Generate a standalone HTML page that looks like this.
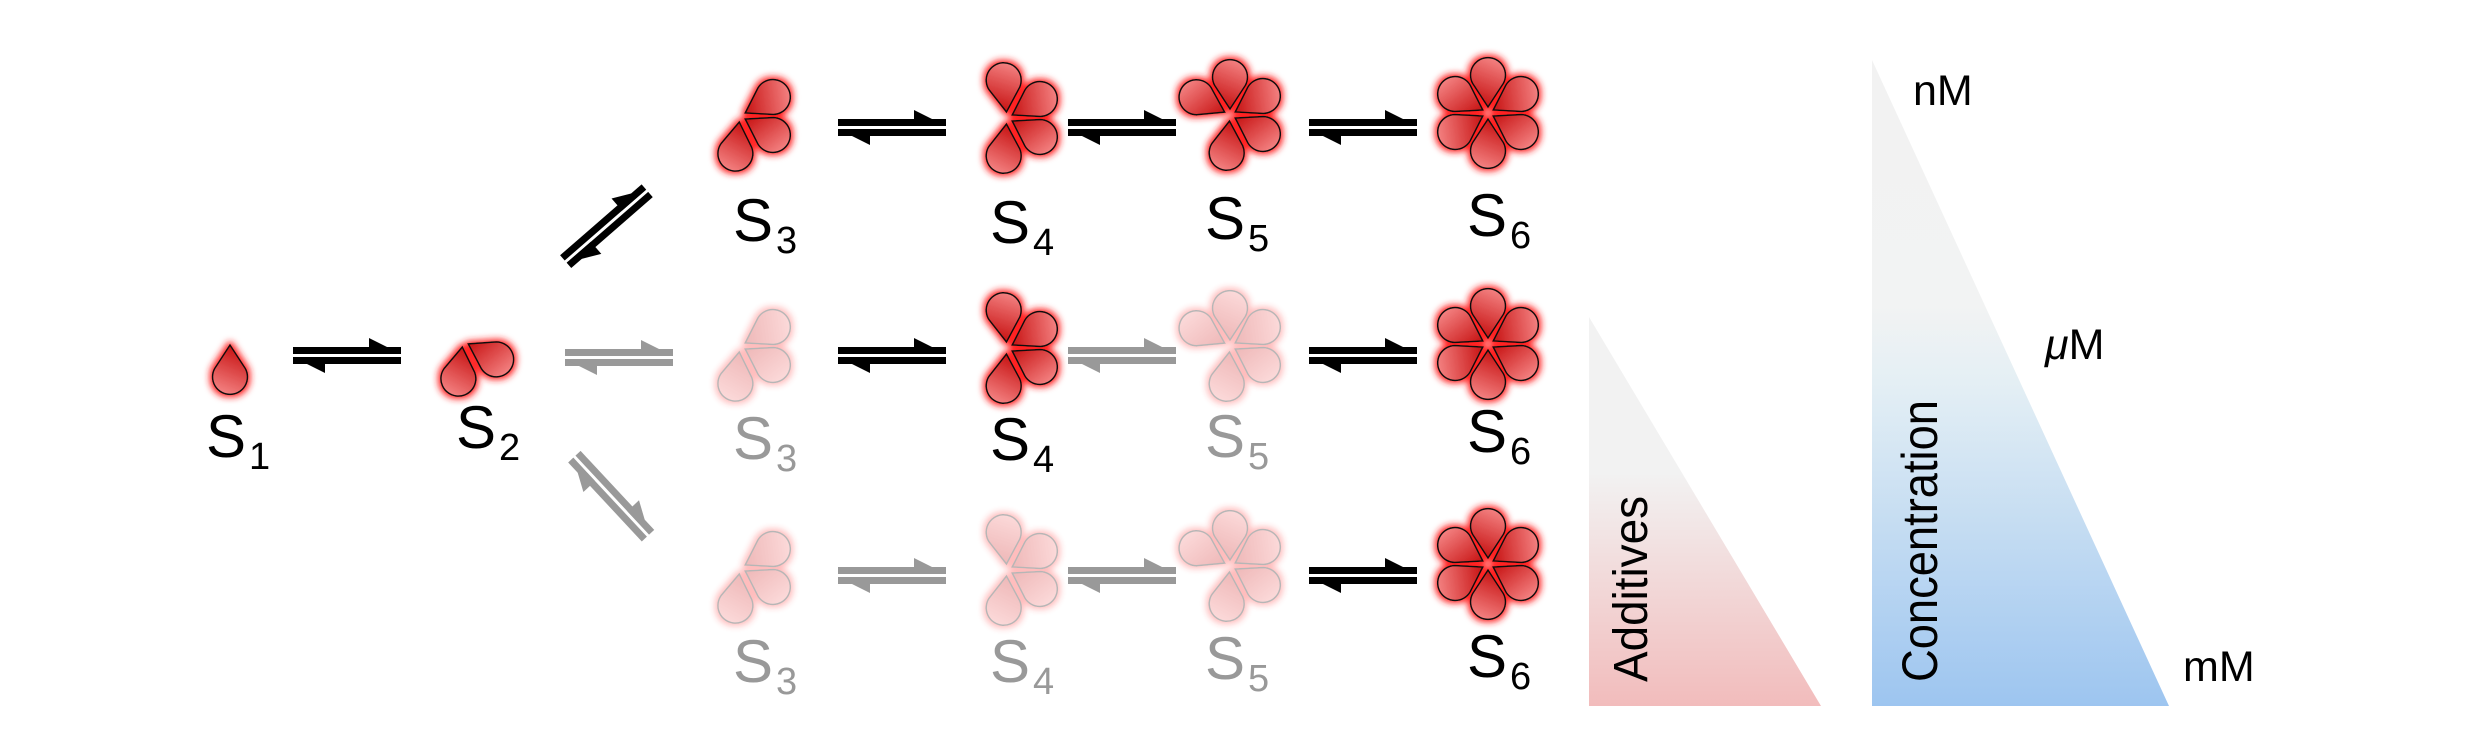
<!DOCTYPE html>
<html><head><meta charset="utf-8"><style>html,body{margin:0;padding:0;background:#fff}svg{display:block}</style></head>
<body>
<svg width="2480" height="738" viewBox="0 0 2480 738" xmlns="http://www.w3.org/2000/svg">
<defs>
<linearGradient id="pg" gradientUnits="userSpaceOnUse" x1="5" y1="-8" x2="54" y2="12">
<stop offset="0" stop-color="#c40a0a"/><stop offset="1" stop-color="#f58585"/></linearGradient>
<filter id="glow" x="-50%" y="-50%" width="200%" height="200%">
<feMorphology in="SourceAlpha" operator="dilate" radius="2" result="d"/>
<feGaussianBlur in="d" stdDeviation="3.5" result="b"/>
<feFlood flood-color="#ff2020"/><feComposite in2="b" operator="in" result="g"/>
<feMerge><feMergeNode in="g"/><feMergeNode in="SourceGraphic"/></feMerge></filter>
<path id="pt" d="M6,0 L29.6,-15.4 A17.5,17.5 0 1 1 29.6,15.4 Z" fill="url(#pg)" stroke="#111" stroke-width="1.5"/>
<g id="ab">
<rect x="0" y="-9" width="108" height="7"/><polygon points="76,-18 108,-2 76,-2"/>
<rect x="0" y="1" width="108" height="7"/><polygon points="0,1 32,17 32,1"/>
</g>
</defs>

<g filter="url(#glow)">
<g transform="translate(230,339)"><use href="#pt" transform="rotate(90)"/></g>
<g transform="translate(463,341)"><use href="#pt" transform="rotate(97)"/><use href="#pt" transform="rotate(29)"/></g>
<g transform="translate(740,116)"><use href="#pt" transform="rotate(-30)"/><use href="#pt" transform="rotate(30)"/><use href="#pt" transform="rotate(97)"/></g>
<g transform="translate(1007,118)"><use href="#pt" transform="rotate(-95)"/><use href="#pt" transform="rotate(-30)"/><use href="#pt" transform="rotate(30)"/><use href="#pt" transform="rotate(95)"/></g>
<g transform="translate(1230,115)"><use href="#pt" transform="rotate(-152)"/><use href="#pt" transform="rotate(-90)"/><use href="#pt" transform="rotate(-30)"/><use href="#pt" transform="rotate(30)"/><use href="#pt" transform="rotate(95)"/></g>
<g transform="translate(1488,113)"><use href="#pt" transform="rotate(-150)"/><use href="#pt" transform="rotate(-90)"/><use href="#pt" transform="rotate(-30)"/><use href="#pt" transform="rotate(30)"/><use href="#pt" transform="rotate(90)"/><use href="#pt" transform="rotate(150)"/></g>
<g transform="translate(1007,348)"><use href="#pt" transform="rotate(-95)"/><use href="#pt" transform="rotate(-30)"/><use href="#pt" transform="rotate(30)"/><use href="#pt" transform="rotate(95)"/></g>
<g transform="translate(1488,344)"><use href="#pt" transform="rotate(-150)"/><use href="#pt" transform="rotate(-90)"/><use href="#pt" transform="rotate(-30)"/><use href="#pt" transform="rotate(30)"/><use href="#pt" transform="rotate(90)"/><use href="#pt" transform="rotate(150)"/></g>
<g transform="translate(1488,564)"><use href="#pt" transform="rotate(-150)"/><use href="#pt" transform="rotate(-90)"/><use href="#pt" transform="rotate(-30)"/><use href="#pt" transform="rotate(30)"/><use href="#pt" transform="rotate(90)"/><use href="#pt" transform="rotate(150)"/></g>
</g>
<g filter="url(#glow)" opacity="0.3">
<g transform="translate(740,346)"><use href="#pt" transform="rotate(-30)"/><use href="#pt" transform="rotate(30)"/><use href="#pt" transform="rotate(97)"/></g>
<g transform="translate(1230,346)"><use href="#pt" transform="rotate(-152)"/><use href="#pt" transform="rotate(-90)"/><use href="#pt" transform="rotate(-30)"/><use href="#pt" transform="rotate(30)"/><use href="#pt" transform="rotate(95)"/></g>
<g transform="translate(740,568)"><use href="#pt" transform="rotate(-30)"/><use href="#pt" transform="rotate(30)"/><use href="#pt" transform="rotate(97)"/></g>
<g transform="translate(1007,570)"><use href="#pt" transform="rotate(-95)"/><use href="#pt" transform="rotate(-30)"/><use href="#pt" transform="rotate(30)"/><use href="#pt" transform="rotate(95)"/></g>
<g transform="translate(1230,566)"><use href="#pt" transform="rotate(-152)"/><use href="#pt" transform="rotate(-90)"/><use href="#pt" transform="rotate(-30)"/><use href="#pt" transform="rotate(30)"/><use href="#pt" transform="rotate(95)"/></g>
</g>

<g fill="#000">
<use href="#ab" transform="translate(293,356)"/>
<use href="#ab" transform="translate(838,128)"/>
<use href="#ab" transform="translate(1068,128)"/>
<use href="#ab" transform="translate(1309,128)"/>
<use href="#ab" transform="translate(838,356)"/>
<use href="#ab" transform="translate(1309,356)"/>
<use href="#ab" transform="translate(1309,576)"/>
<use href="#ab" transform="translate(566,262) rotate(-41)"/>
</g>
<g fill="#999">
<use href="#ab" transform="translate(565,358)"/>
<use href="#ab" transform="translate(1068,356)"/>
<use href="#ab" transform="translate(838,576)"/>
<use href="#ab" transform="translate(1068,576)"/>
<use href="#ab" transform="translate(574,457) rotate(47)"/>
</g>

<g font-family="Liberation Sans, sans-serif" font-size="60">
<text x="206" y="457">S<tspan font-size="38" dx="3" dy="12">1</tspan></text>
<text x="456" y="448">S<tspan font-size="38" dx="3" dy="12">2</tspan></text>
<text x="733" y="241">S<tspan font-size="38" dx="3" dy="12">3</tspan></text>
<text x="990" y="243">S<tspan font-size="38" dx="3" dy="12">4</tspan></text>
<text x="1205" y="239">S<tspan font-size="38" dx="3" dy="12">5</tspan></text>
<text x="1467" y="236">S<tspan font-size="38" dx="3" dy="12">6</tspan></text>
<text x="733" y="459" fill="#999">S<tspan font-size="38" dx="3" dy="12">3</tspan></text>
<text x="990" y="460">S<tspan font-size="38" dx="3" dy="12">4</tspan></text>
<text x="1205" y="457" fill="#999">S<tspan font-size="38" dx="3" dy="12">5</tspan></text>
<text x="1467" y="452">S<tspan font-size="38" dx="3" dy="12">6</tspan></text>
<text x="733" y="682" fill="#999">S<tspan font-size="38" dx="3" dy="12">3</tspan></text>
<text x="990" y="682" fill="#999">S<tspan font-size="38" dx="3" dy="12">4</tspan></text>
<text x="1205" y="679" fill="#999">S<tspan font-size="38" dx="3" dy="12">5</tspan></text>
<text x="1467" y="677">S<tspan font-size="38" dx="3" dy="12">6</tspan></text>
</g>

<linearGradient id="ga" x1="0" y1="0" x2="0" y2="1">
<stop offset="0" stop-color="#f2f2f2"/><stop offset="0.4" stop-color="#f2f2f2"/><stop offset="1" stop-color="#f2bcbc"/></linearGradient>
<linearGradient id="gc" x1="0" y1="0" x2="0" y2="1">
<stop offset="0" stop-color="#f2f2f2"/><stop offset="0.38" stop-color="#f2f3f3"/><stop offset="0.5" stop-color="#e4eff4"/><stop offset="1" stop-color="#9dc5f0"/></linearGradient>
<polygon points="1589,317 1589,706 1821,706" fill="url(#ga)"/>
<polygon points="1872,60 1872,706 2169,706" fill="url(#gc)"/>
<g font-family="Liberation Sans, sans-serif">
<text transform="translate(1647,682) rotate(-90)" font-size="48" textLength="186" lengthAdjust="spacingAndGlyphs">Additives</text>
<text transform="translate(1937,682) rotate(-90)" font-size="50" textLength="282" lengthAdjust="spacingAndGlyphs">Concentration</text>
<text x="1913" y="105" font-size="43">nM</text>
<text x="2045" y="359" font-size="43"><tspan font-style="italic">μ</tspan>M</text>
<text x="2183" y="681" font-size="43">mM</text>
</g>
</svg>
</body></html>
